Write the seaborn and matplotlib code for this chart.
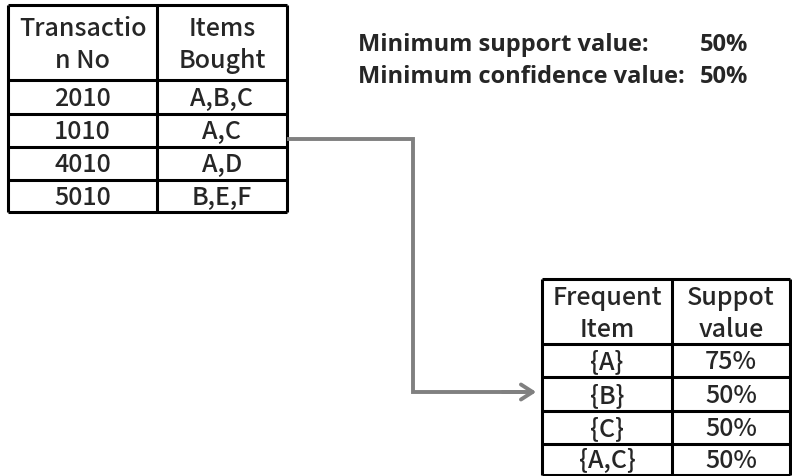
import matplotlib
matplotlib.use("Agg")
import matplotlib.pyplot as plt
import seaborn as sns

# table contents
trans_header = ["Transactio\nn No", "Items\nBought"]
trans_no = ["2010", "1010", "4010", "5010"]
items_bought = ["A,B,C", "A,C", "A,D", "B,E,F"]

freq_header = ["Frequent\nItem", "Suppot\nvalue"]
freq_items = ["{A}", "{B}", "{C}", "{A,C}"]
support_values = ["75%", "50%", "50%", "50%"]

param_labels = ["Minimum support value:", "Minimum confidence value:"]
param_values = ["50%", "50%"]

sns.set_theme(style="white")
plt.rcParams["font.family"] = ["Noto Sans CJK JP", "DejaVu Sans"]

fig = plt.figure(figsize=(7.92, 4.77), dpi=100)
ax = fig.add_axes([0, 0, 1, 1])
ax.set_xlim(0, 792)
ax.set_ylim(477, 0)
ax.axis("off")


def draw_table(ax, xs, ys, header, col1, col2, fs):
    # outer border and grid lines
    ax.vlines(xs, ys[0], ys[-1], color="black", lw=2.2)
    ax.hlines(ys, xs[0], xs[-1], color="black", lw=2.2)
    cx = [(xs[0] + xs[1]) / 2, (xs[1] + xs[2]) / 2]
    for j in range(2):
        ax.text(cx[j], (ys[0] + ys[1]) / 2 + 2, header[j], ha="center", va="center",
                fontsize=fs, fontweight="medium", linespacing=1.3)
    for i, (a, b) in enumerate(zip(col1, col2)):
        yc = (ys[i + 1] + ys[i + 2]) / 2 + 1
        ax.text(cx[0], yc, a, ha="center", va="center", fontsize=fs, fontweight="medium")
        ax.text(cx[1], yc, b, ha="center", va="center", fontsize=fs, fontweight="medium")


draw_table(ax, [8, 157, 287], [6, 81, 115, 148, 181, 213],
           trans_header, trans_no, items_bought, 18)
draw_table(ax, [542, 672, 790], [280, 345, 378, 412, 445, 476],
           freq_header, freq_items, support_values, 18)

# parameters
bold_font = ["Open Sans", "DejaVu Sans"]
for k, (lab, val) in enumerate(zip(param_labels, param_values)):
    y = 45 + 32 * k
    ax.text(358, y, lab, ha="left", va="center", fontsize=17,
            fontweight="bold", family=bold_font)
    ax.text(748, y, val, ha="right", va="center", fontsize=17,
            fontweight="bold", family=bold_font)

# connector arrow
gray = "#808080"
ax.plot([287, 413, 413, 525], [140, 140, 393, 393], color=gray, lw=2.8,
        solid_joinstyle="miter", solid_capstyle="butt")
ax.annotate("", xy=(539, 393), xytext=(500, 393),
            arrowprops=dict(arrowstyle="->,head_length=0.7,head_width=0.45",
                            color=gray, lw=2.8))

fig.savefig("out.png", dpi=100)
